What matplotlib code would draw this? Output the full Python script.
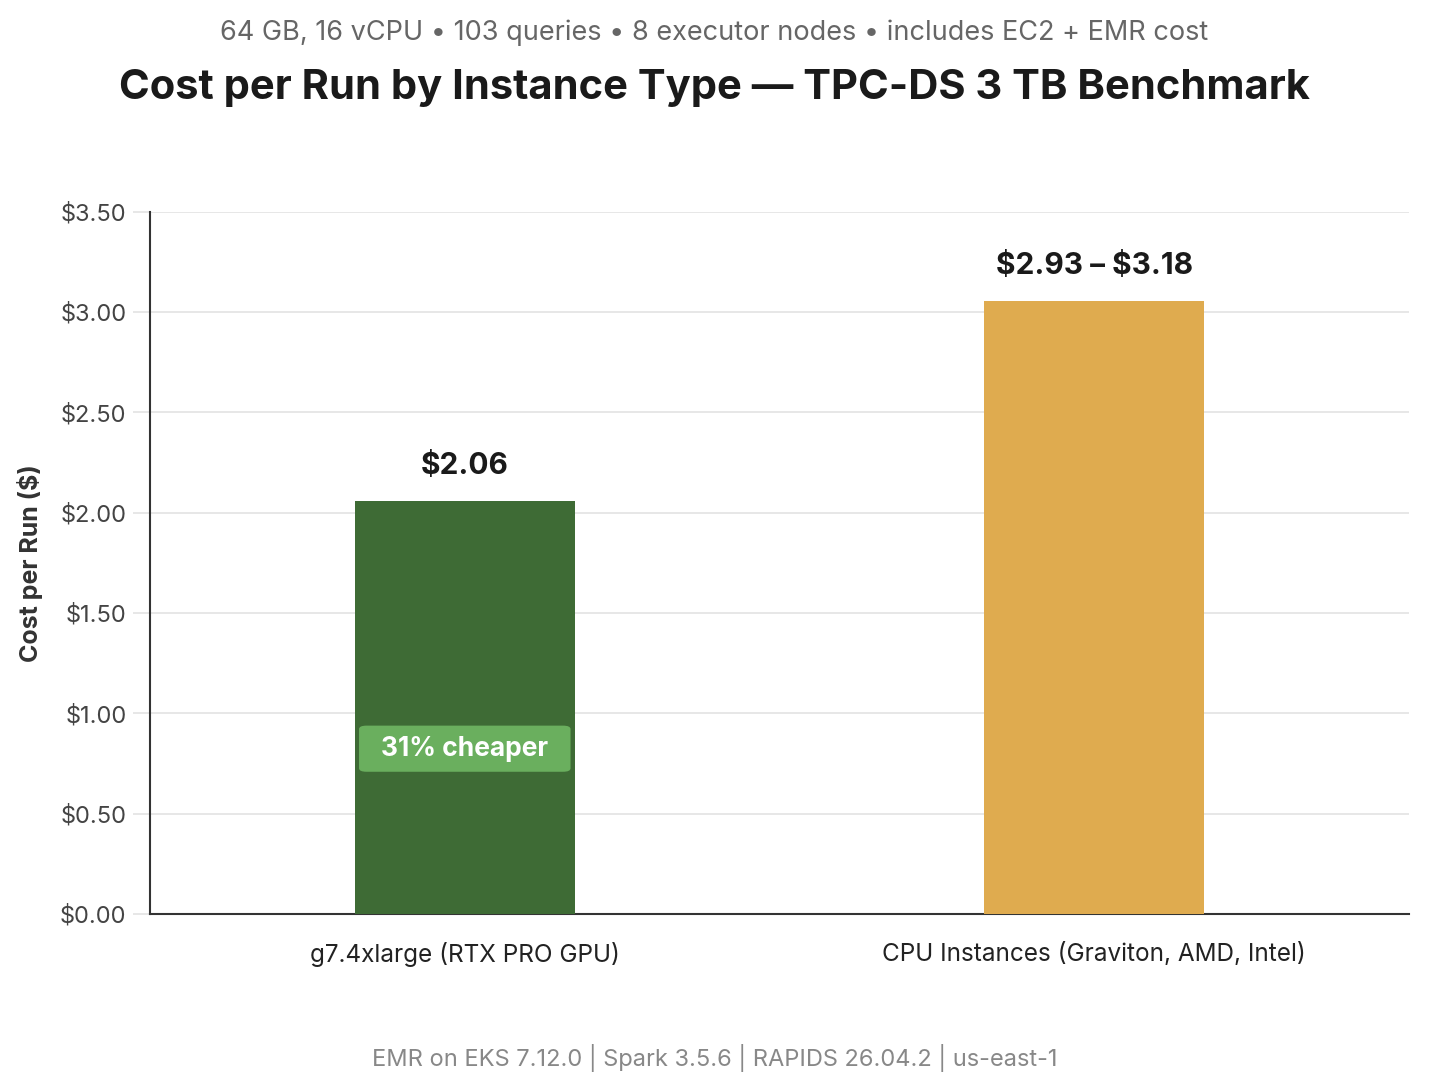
import matplotlib.pyplot as plt
from matplotlib.patches import FancyBboxPatch
import numpy as np

# Data
categories = ['g7.4xlarge (RTX PRO GPU)', 'CPU Instances (Graviton, AMD, Intel)']
cost_low = [2.06, 2.93]
cost_high = [2.06, 3.18]
bar_colors = ['#3e6b35', '#dfab4f']
value_labels = ['\\$2.06', '\\$2.93 \u2013 \\$3.18']
yticks = [0, 0.5, 1.0, 1.5, 2.0, 2.5, 3.0, 3.5]
badge_text = '31% cheaper'

plt.rcParams['font.family'] = ['Inter', 'DejaVu Sans']

fig = plt.figure(figsize=(14.29, 10.92), dpi=100)
ax = fig.add_axes([0.105, 0.163, 0.881, 0.643])

x = np.arange(len(categories))
# bar height = middle of the range
heights = [(lo + hi) / 2 for lo, hi in zip(cost_low, cost_high)]
ax.bar(x, heights, width=0.35, color=bar_colors, zorder=3)

for xi, h, lab in zip(x, heights, value_labels):
    ax.annotate(lab, (xi, h), xytext=(0, 15), textcoords='offset points',
                ha='center', va='bottom', fontsize=21.5, fontweight='bold', color='#1a1a1a')

# badge inside the GPU bar
by = heights[0] * 0.4
badge = FancyBboxPatch((-0.168, by - 0.115), 0.336, 0.23,
                       boxstyle='round,pad=0,rounding_size=0.012',
                       mutation_aspect=1 / 0.35 * 0.5,
                       facecolor='#6aaf5e', edgecolor='none', zorder=4)
ax.add_patch(badge)
ax.text(0, by, badge_text, ha='center', va='center', fontsize=19,
        fontweight='bold', color='white', zorder=5)

ax.set_xlim(-0.5, 1.5)
ax.set_ylim(0, 3.5)
ax.set_yticks(yticks)
ax.set_yticklabels([f'${v:.2f}' for v in yticks], fontsize=17, color='#444444')
ax.set_xticks(x)
ax.set_xticklabels(categories, fontsize=17.5, color='#222222')
ax.tick_params(axis='y', length=12, color='#e3e3e3', width=1.2, pad=5)
ax.tick_params(axis='x', length=0, pad=20)
ax.grid(axis='y', color='#e3e3e3', linewidth=1.2, zorder=0)
ax.set_axisbelow(True)
for s in ['top', 'right']:
    ax.spines[s].set_visible(False)
ax.spines['left'].set_color('#333333')
ax.spines['bottom'].set_color('#333333')
ax.spines['left'].set_linewidth(1.5)
ax.spines['bottom'].set_linewidth(1.5)
ax.set_ylabel('Cost per Run ($)', fontsize=18, fontweight='bold', color='#333333', labelpad=12)

fig.text(0.5, 0.970, '64 GB, 16 vCPU \u2022 103 queries \u2022 8 executor nodes \u2022 includes EC2 + EMR cost',
         ha='center', va='center', fontsize=19.5, color='#666666')
fig.text(0.5, 0.919, 'Cost per Run by Instance Type \u2014 TPC-DS 3 TB Benchmark',
         ha='center', va='center', fontsize=30, fontweight='bold', color='#1a1a1a')
fig.text(0.5, 0.031, 'EMR on EKS 7.12.0 | Spark 3.5.6 | RAPIDS 26.04.2 | us-east-1',
         ha='center', va='center', fontsize=17, color='#888888')

fig.savefig('out.png', dpi=100)
